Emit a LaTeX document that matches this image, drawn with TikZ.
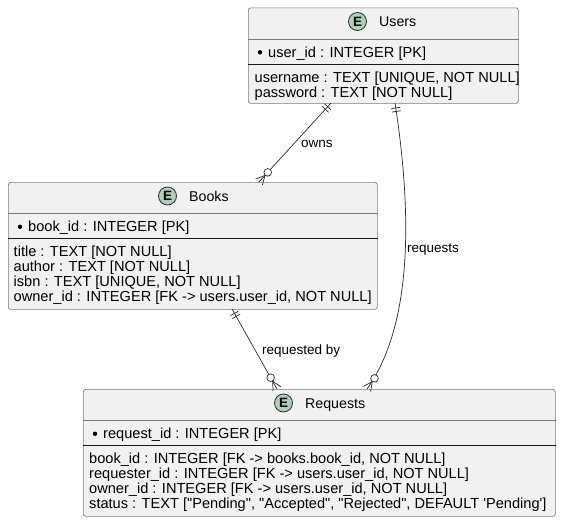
\documentclass[tikz,border=0pt]{standalone}
\usepackage{fontspec}
\setmainfont{Liberation Sans}[Ligatures=TeXOff]
\usetikzlibrary{calc}
\definecolor{boxfill}{HTML}{F1F1F1}
\definecolor{boxline}{HTML}{7A7A7A}
\definecolor{sepdark}{HTML}{181818}
\definecolor{badgefill}{HTML}{ADD1B2}
\definecolor{badgeline}{HTML}{2E2E2E}
\definecolor{relcol}{HTML}{2A2A2A}
\newcommand\attrfont{\fontsize{14.6}{15}\selectfont}
\newcommand\ttlfont{\fontsize{14.2}{15}\selectfont}
\newcommand\lblfont{\fontsize{13.5}{14}\selectfont}
\newcommand\barsat[2]{%
  \path ($(#1)!5pt!(#2)$) coordinate (bA) ($(#1)!8.5pt!(#2)$) coordinate (bB);
  \draw[rel] ($(bA)!4.5pt!90:(#2)$) -- ($(bA)!4.5pt!-90:(#2)$);
  \draw[rel] ($(bB)!4.5pt!90:(#2)$) -- ($(bB)!4.5pt!-90:(#2)$);}
\newcommand\crowat[2]{%
  \path ($(#1)!9pt!(#2)$) coordinate (cA) ($(#1)!13pt!(#2)$) coordinate (cC);
  \draw[rel] ($(#1)!4.5pt!90:(#2)$) -- (cA) -- ($(#1)!4.5pt!-90:(#2)$);
  \draw[rel, fill=white] (cC) circle (3.8pt);}
\tikzset{
  entbox/.style={draw=boxline, fill=boxfill, rounded corners=2.5pt, line width=0.7pt, inner sep=0pt, anchor=north west},
  thinsep/.style={draw=boxline, line width=0.7pt},
  thicksep/.style={draw=sepdark, line width=0.9pt},
  attr/.style={anchor=base west, inner sep=0pt, font=\attrfont},
  ttl/.style={anchor=base west, inner sep=0pt, font=\ttlfont},
  ebadge/.style={circle, draw=badgeline, fill=badgefill, minimum size=18pt, inner sep=0pt, line width=0.8pt, font=\fontsize{13.5}{13.5}\selectfont\bfseries},
  pkdot/.style={circle, fill=black, minimum size=4.4pt, inner sep=0pt},
  lbl/.style={anchor=base west, inner sep=0pt, font=\lblfont},
  rel/.style={draw=relcol, line width=0.7pt}
}
\begin{document}
\begin{tikzpicture}[x=1pt,y=-1pt]
\useasboundingbox (0,0) rectangle (562,525);

% ---------- Users ----------
\node[entbox, minimum width=270pt, minimum height=95.5pt] (users) at (248,7.5) {};
\node[ebadge] (ubadge) at (357.5,21.5) {E};
\node[ttl] (utitle) at (379,26.5) {Users};
\draw[thinsep] ($(users.north west)+(0,31.5)$) -- ($(users.north east)+(0,31.5)$);
\node[pkdot] (udot) at (260,52.3) {};
\node[attr] (upk) at (268,57) {user\_id : INTEGER [PK]};
\draw[thicksep] ($(users.north west)+(0,56.5)$) -- ($(users.north east)+(0,56.5)$);
\node[attr] (ua1) at (254.5,82) {username : TEXT [UNIQUE, NOT NULL]};
\node[attr] (ua2) at (254.5,97) {password : TEXT [NOT NULL]};

% ---------- Books ----------
\node[entbox, minimum width=369pt, minimum height=127pt] (books) at (8,182) {};
\node[ebadge] (bbadge) at (167.5,196) {E};
\node[ttl] (btitle) at (189,201) {Books};
\draw[thinsep] ($(books.north west)+(0,31.5)$) -- ($(books.north east)+(0,31.5)$);
\node[pkdot] (bdot) at (20,226.8) {};
\node[attr] (bpk) at (28,231.5) {book\_id : INTEGER [PK]};
\draw[thicksep] ($(books.north west)+(0,56.5)$) -- ($(books.north east)+(0,56.5)$);
\node[attr] (ba1) at (13.5,256.5) {title : TEXT [NOT NULL]};
\node[attr] (ba2) at (13.5,271.5) {author : TEXT [NOT NULL]};
\node[attr] (ba3) at (13.5,286.5) {isbn : TEXT [UNIQUE, NOT NULL]};
\node[attr] (ba4) at (13.5,301.5) {owner\_id : INTEGER [FK -> users.user\_id, NOT NULL]};

% ---------- Requests ----------
\node[entbox, minimum width=472pt, minimum height=127pt] (reqs) at (83,389) {};
\node[ebadge] (rbadge) at (283.5,403) {E};
\node[ttl] (rtitle) at (305,408) {Requests};
\draw[thinsep] ($(reqs.north west)+(0,31.5)$) -- ($(reqs.north east)+(0,31.5)$);
\node[pkdot] (rdot) at (95,433.8) {};
\node[attr] (rpk) at (103,438.5) {request\_id : INTEGER [PK]};
\draw[thicksep] ($(reqs.north west)+(0,56.5)$) -- ($(reqs.north east)+(0,56.5)$);
\node[attr] (ra1) at (89,463.5) {book\_id : INTEGER [FK -> books.book\_id, NOT NULL]};
\node[attr] (ra2) at (89,478.5) {requester\_id : INTEGER [FK -> users.user\_id, NOT NULL]};
\node[attr] (ra3) at (89,493.5) {owner\_id : INTEGER [FK -> users.user\_id, NOT NULL]};
\node[attr] (ra4) at (89,508.5) {status : TEXT ["Pending", "Accepted", "Rejected", DEFAULT 'Pending']};

% ---------- connector end points ----------
\coordinate (uo) at (331,103);
\coordinate (bo) at (259,182);
\coordinate (bq) at (232,309);
\coordinate (rq) at (277,389);
\coordinate (ur) at (395,103);
\coordinate (rr) at (367,389);
\coordinate (k1) at (410,200);
\coordinate (k2) at (416,320);

% owns
\draw[rel] (uo) -- (bo);
\barsat{uo}{bo}
\crowat{bo}{uo}
\node[lbl] (lowns) at (301,147.5) {owns};

% requested by
\draw[rel] (bq) -- (rq);
\barsat{bq}{rq}
\crowat{rq}{bq}
\node[lbl] (lreqby) at (262,354) {requested by};

% requests
\draw[rel] (ur) .. controls (k1) and (k2) .. (rr);
\barsat{ur}{k1}
\crowat{rr}{k2}
\node[lbl] (lreqs) at (407,252) {requests};
\end{tikzpicture}
\end{document}
